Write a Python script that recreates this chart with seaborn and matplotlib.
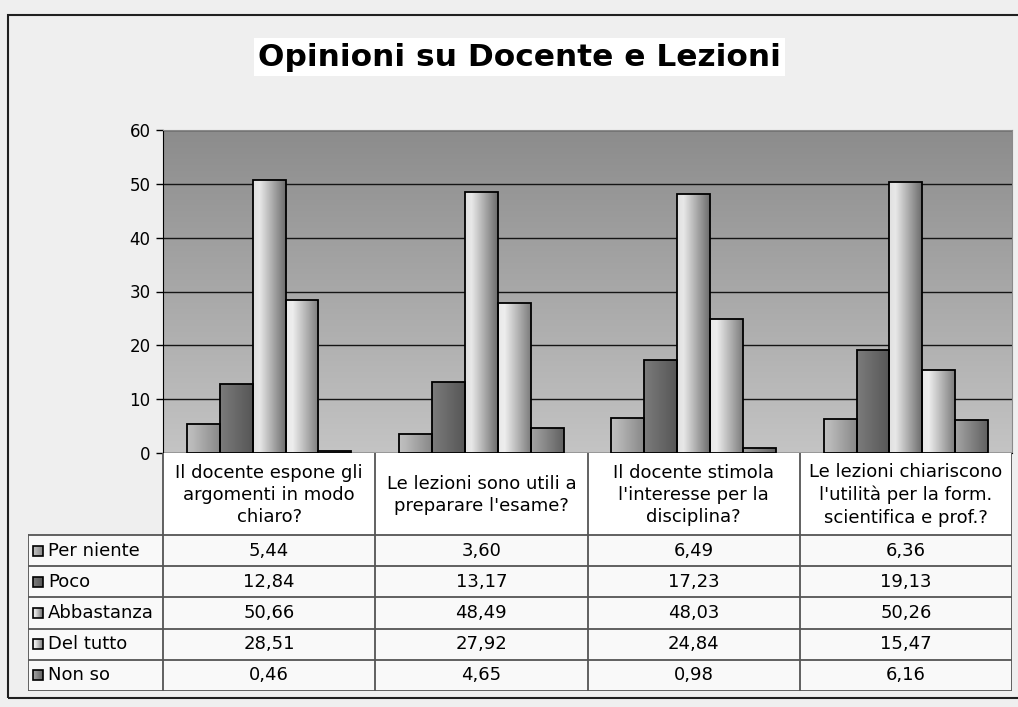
import numpy as np
import pandas as pd
import seaborn as sns
import matplotlib.pyplot as plt
from matplotlib.colors import LinearSegmentedColormap
from matplotlib.patches import Rectangle

# dati
domande = ["Il docente espone gli\nargomenti in modo\nchiaro?",
           "Le lezioni sono utili a\npreparare l'esame?",
           "Il docente stimola\nl'interesse per la\ndisciplina?",
           "Le lezioni chiariscono\nl'utilità per la form.\nscientifica e prof.?"]
risposte = ["Per niente", "Poco", "Abbastanza", "Del tutto", "Non so"]
per_niente = [5.44, 3.60, 6.49, 6.36]
poco = [12.84, 13.17, 17.23, 19.13]
abbastanza = [50.66, 48.49, 48.03, 50.26]
del_tutto = [28.51, 27.92, 24.84, 15.47]
non_so = [0.46, 4.65, 0.98, 6.16]
y_ticks = [0, 10, 20, 30, 40, 50, 60]

valori = [per_niente, poco, abbastanza, del_tutto, non_so]
df = pd.DataFrame([(d, r, v) for r, serie in zip(risposte, valori)
                   for d, v in zip(domande, serie)],
                  columns=['domanda', 'risposta', 'valore'])

# gradienti orizzontali delle barre (sinistra -> destra)
gradienti = {
    "Per niente": ['#c0c0c0', '#b8b8b8', '#888888'],
    "Poco": ['#7c7c7c', '#747474', '#565656'],
    "Abbastanza": ['#e0e0e0', '#e8e8e8', '#6c6c6c'],
    "Del tutto": ['#e8e8e8', '#eeeeee', '#7c7c7c'],
    "Non so": ['#a4a4a4', '#989898', '#606060'],
}
cmaps = {k: LinearSegmentedColormap.from_list(k, [(0, c[0]), (0.2, c[1]), (1, c[2])])
         for k, c in gradienti.items()}

W, H = 1018, 707
sns.set_style('white')
plt.rcParams['font.family'] = ['DejaVu Sans']
plt.rcParams['text.color'] = 'black'
plt.rcParams['ytick.color'] = 'black'
plt.rcParams['ytick.labelcolor'] = 'black'
fig = plt.figure(figsize=(W / 100, H / 100), dpi=100)
fig.patch.set_facecolor('#efefef')


def fig_box(x0, y0, x1, y1):
    return [x0 / W, 1 - y1 / H, (x1 - x0) / W, (y1 - y0) / H]


# cornice esterna
fig.patches.append(Rectangle((8 / W, 1 - 698 / H), 1.2, (698 - 15) / H,
                             transform=fig.transFigure, fill=False,
                             edgecolor='#202020', lw=1.5))

fig.text(519 / W, 1 - 57 / H, 'Opinioni su Docente e Lezioni', ha='center',
         va='center', fontsize=22.5, fontweight='bold', color='black',
         bbox=dict(facecolor='white', edgecolor='none', pad=3))

X0, X1, YT, YB = 163, 1012, 130, 453
ax = fig.add_axes(fig_box(X0, YT, X1, YB))
sns.barplot(data=df, x='domanda', y='valore', hue='risposta', width=0.775,
            gap=0, ax=ax, legend=False, edgecolor='black', linewidth=1.3,
            color='gray')

# sfondo con gradiente verticale
bg = np.linspace(0, 1, 256).reshape(-1, 1)
ax.imshow(bg, extent=[0, 1, 0, 1], transform=ax.transAxes, aspect='auto',
          cmap=LinearSegmentedColormap.from_list('bg', ['#c4c4c4', '#8c8c8c']),
          origin='lower', zorder=0)

oriz = np.linspace(0, 1, 256).reshape(1, -1)
for cont, r in zip(ax.containers, risposte):
    for bar in cont:
        x, w, h = bar.get_x(), bar.get_width(), bar.get_height()
        im = ax.imshow(oriz, extent=[x, x + w, 0, h], aspect='auto',
                       cmap=cmaps[r], zorder=1.5, origin='lower')
        im.set_clip_path(bar)
        bar.set_facecolor('none')
        bar.set_zorder(2)

ax.set_xlim(-0.5, len(domande) - 0.5)
ax.set_ylim(0, 60)
ax.set_yticks(y_ticks)
ax.set_yticklabels([str(t) for t in y_ticks], fontsize=12)
ax.tick_params(axis='y', length=5, width=1, color='black', left=True, pad=4)
ax.set_xticks([])
ax.set_xlabel('')
ax.set_ylabel('')
ax.yaxis.grid(True, color='#151515', lw=1)
ax.set_axisbelow(True)
for s in ['top', 'right']:
    ax.spines[s].set_color('#8a8a8a')
ax.spines['left'].set_color('black')
ax.spines['bottom'].set_color('black')

# tabella dati
TX0, TY1 = 28, 691
HDR = 535
tab = fig.add_axes(fig_box(TX0, YB, X1, TY1))
tab.set_xlim(TX0, X1)
tab.set_ylim(TY1, YB)
tab.axis('off')
col_w = (X1 - X0) / len(domande)
row_h = (TY1 - HDR) / len(risposte)
tab.add_patch(Rectangle((X0, YB), X1 - X0, HDR - YB, facecolor='white',
                        edgecolor='none'))
tab.add_patch(Rectangle((TX0, HDR), X1 - TX0, TY1 - HDR, facecolor='#f9f9f9',
                        edgecolor='none'))
line_kw = dict(color='#555555', lw=1.3)
for i in range(len(domande) + 1):
    tab.plot([X0 + i * col_w] * 2, [YB, TY1], **line_kw)
tab.plot([TX0, TX0], [HDR, TY1], **line_kw)
for j in range(len(risposte) + 1):
    tab.plot([TX0, X1], [HDR + j * row_h] * 2, **line_kw)

for i, d in enumerate(domande):
    cx = X0 + (i + 0.5) * col_w
    tab.text(cx, (YB + HDR) / 2 + 1, d, ha='center', va='center', fontsize=13,
             linespacing=1.3)
    for j, serie in enumerate(valori):
        cy = HDR + (j + 0.5) * row_h
        tab.text(cx, cy, f'{serie[i]:.2f}'.replace('.', ','), ha='center',
                 va='center', fontsize=13)

for j, r in enumerate(risposte):
    cy = HDR + (j + 0.5) * row_h
    tab.imshow(oriz, extent=[33, 43, cy + 5, cy - 5], aspect='auto',
               cmap=cmaps[r], zorder=3)
    tab.add_patch(Rectangle((33, cy - 5), 10, 10, fill=False,
                            edgecolor='black', lw=1.2, zorder=4))
    tab.text(48, cy, r, ha='left', va='center', fontsize=13)
tab.set_xlim(TX0, X1)
tab.set_ylim(TY1, YB)

fig.savefig('out.png', dpi=100, facecolor=fig.get_facecolor())
